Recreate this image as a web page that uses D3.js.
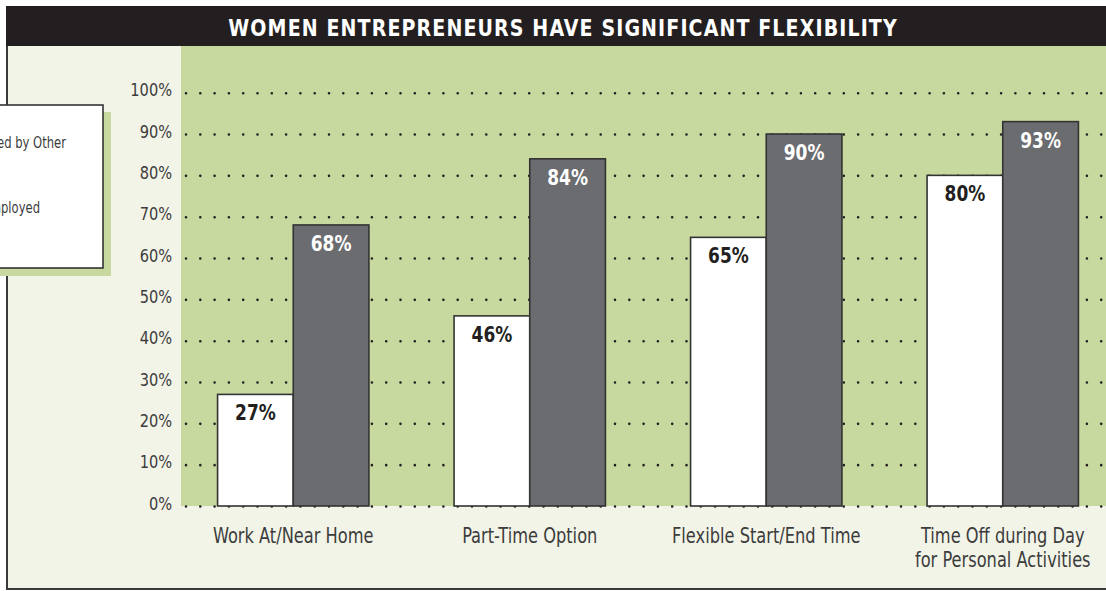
<!DOCTYPE html>
<html>
<head>
<meta charset="utf-8">
<script src="https://cdn.jsdelivr.net/npm/d3@7"></script>
<style>
body{margin:0;background:#fff;}
svg{display:block;}
</style>
</head>
<body>
<svg id="chart" width="1106" height="591"></svg>
<script>
const categories = ["Work At/Near Home", "Part-Time Option", "Flexible Start/End Time", "Time Off during Day\nfor Personal Activities"];
const seriesNames = ["Women Employed by Other", "Women Self-Employed"];
const employedValues = [27, 46, 65, 80];
const selfValues = [68, 84, 90, 93];
const tickValues = [0, 10, 20, 30, 40, 50, 60, 70, 80, 90, 100];

const chartTitle = "WOMEN ENTREPRENEURS HAVE SIGNIFICANT FLEXIBILITY";
// no narrow font installed, so condensed DejaVu is squeezed a bit more with scaleX
const font = "'DejaVu Sans Condensed', 'DejaVu Sans', sans-serif";

const W = 1106, H = 591;
const svg = d3.select("#chart");

// frame background
svg.append("rect")
    .attr("x",7).attr("y",6)
    .attr("width",W-7).attr("height",583)
    .attr("fill","#f3f4e8");

// green plot panel
svg.append("rect")
    .attr("x",181).attr("y",46)
    .attr("width",W-181).attr("height",460)
    .attr("fill","#c8d9a0");

const data = categories.map((c,i) => ({cat:c, values:[employedValues[i], selfValues[i]]}));

const x0 = d3.scaleBand()
    .domain(categories)
    .range([175,1121])
    .paddingInner(0.36)
    .paddingOuter(0.18);

const x1 = d3.scaleBand()
    .domain([0,1])
    .range([0,x0.bandwidth()]);

const y = d3.scaleLinear()
    .domain([0,100])
    .range([506,92.7]);

// dotted grid
const grid = svg.append("g")
    .attr("transform","translate(186,0)")
    .call(d3.axisLeft(y).tickValues(tickValues).tickSize(-(W-186)).tickFormat(""));
grid.select(".domain").remove();
grid.selectAll(".tick line")
    .attr("stroke","#231f20")
    .attr("stroke-width",2.6)
    .attr("stroke-linecap","round")
    .attr("stroke-dasharray","0 14.3");

// y tick labels
const yAxis = svg.append("g")
    .attr("transform","translate(172,0) scale(0.9,1)")
    .call(d3.axisLeft(y).tickValues(tickValues).tickSize(0).tickPadding(0).tickFormat(d => d + "%"));
yAxis.select(".domain").remove();
yAxis.selectAll("text")
    .attr("font-family",font)
    .attr("font-size",18)
    .attr("fill","#3c3c3c")
    .attr("dy","0.18em");

// bars
const groups = svg.append("g")
    .selectAll("g")
    .data(data)
    .join("g")
    .attr("transform", d => `translate(${x0(d.cat)},0)`);

groups.selectAll("rect")
    .data(d => d.values.map((v,j) => ({v,j})))
    .join("rect")
    .attr("x", d => x1(d.j))
    .attr("y", d => y(d.v))
    .attr("width", x1.bandwidth())
    .attr("height", d => y(0) - y(d.v))
    .attr("fill", d => d.j == 0 ? "#ffffff" : "#6b6c70")
    .attr("stroke","#333333")
    .attr("stroke-width",1.6);

groups.selectAll("text")
    .data(d => d.values.map((v,j) => ({v,j})))
    .join("text")
    .attr("transform", d => `translate(${x1(d.j) + x1.bandwidth()/2},${y(d.v) + 26}) scale(0.88,1)`)
    .attr("text-anchor","middle")
    .attr("font-family",font)
    .attr("font-weight","bold")
    .attr("font-size",21.5)
    .attr("fill", d => d.j == 0 ? "#231f20" : "#ffffff")
    .text(d => d.v + "%");

// category labels
const catLabels = svg.append("g")
    .selectAll("text")
    .data(categories)
    .join("text")
    .attr("transform", d => `translate(${x0(d) + x0.bandwidth()/2},543) scale(0.86,1)`)
    .attr("text-anchor","middle")
    .attr("font-family",font)
    .attr("font-size",21)
    .attr("fill","#3c3c3c");

catLabels.selectAll("tspan")
    .data(d => d.split("\n"))
    .join("tspan")
    .attr("x", 0)
    .attr("dy", (d,i) => i == 0 ? 0 : 24)
    .text(d => d);

// frame lines
svg.append("line")
    .attr("x1",7).attr("x2",7).attr("y1",6).attr("y2",590)
    .attr("stroke","#3a3a3a").attr("stroke-width",2);
svg.append("line")
    .attr("x1",6).attr("x2",W).attr("y1",589).attr("y2",589)
    .attr("stroke","#3a3a3a").attr("stroke-width",2);

// title bar
svg.append("rect")
    .attr("x",6).attr("y",6)
    .attr("width",W-6).attr("height",40)
    .attr("fill","#231f20");
svg.append("text")
    .attr("transform","translate(563,36) scale(0.92,1)")
    .attr("text-anchor","middle")
    .attr("font-family",font)
    .attr("font-weight","bold")
    .attr("font-size",23)
    .attr("letter-spacing",1.2)
    .attr("fill","#ffffff")
    .text(chartTitle);

// legend (partly off the left edge, as in the source)
const legend = svg.append("g");
legend.append("rect")
    .attr("x",-100).attr("y",112)
    .attr("width",211).attr("height",164)
    .attr("fill","#c8d9a0");
legend.append("rect")
    .attr("x",-100).attr("y",105)
    .attr("width",203).attr("height",163)
    .attr("fill","#ffffff")
    .attr("stroke","#333333")
    .attr("stroke-width",1.6);

const legendEnds = [66, 40];
const legendY = [148, 213];
seriesNames.forEach((name,i) => {
    legend.append("rect")
        .attr("x",-95).attr("y",legendY[i]-14)
        .attr("width",18).attr("height",18)
        .attr("fill", i == 0 ? "#ffffff" : "#6b6c70")
        .attr("stroke","#333333");
    legend.append("text")
        .attr("transform",`translate(${legendEnds[i]},${legendY[i]}) scale(0.86,1)`)
        .attr("text-anchor","end")
        .attr("font-family",font)
        .attr("font-size",15)
        .attr("fill","#3c3c3c")
        .text(name);
});
</script>
</body>
</html>
